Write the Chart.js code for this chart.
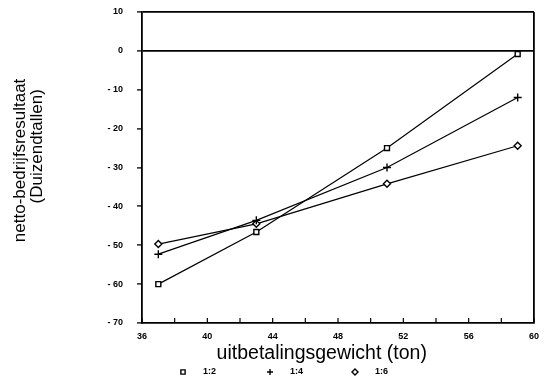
<!DOCTYPE html>
<html>
<head>
<meta charset="utf-8">
<script src="https://cdn.jsdelivr.net/npm/chart.js@4.4.1/dist/chart.umd.min.js"></script>
<style>
  html, body { margin: 0; padding: 0; background: #fff; }
  #wrap { width: 544px; height: 383px; }
</style>
</head>
<body>
<div id="wrap"><canvas id="chart" width="544" height="383"></canvas></div>
<script>
// values
const weights = [37, 43, 51, 59]
const ratio12 = [-60, -46.6, -25, -0.8]
const ratio14 = [-52.3, -43.6, -30, -12]
const ratio16 = [-49.7, -44.5, -34.2, -24.4]
const seriesNames = ['1:2', '1:4', '1:6']
const xTicks = [36, 40, 44, 48, 52, 56, 60]

function toPoints(vals){
  return weights.map((w, i) => ({x: w, y: vals[i]}))
}

const styles = ['rect', 'cross', 'rectRot']
const radii = [3.5, 4, 3.5]

const data = {
  datasets: [ratio12, ratio14, ratio16].map((vals, i) => ({
    label: seriesNames[i],
    data: toPoints(vals),
    showLine: true,
    borderColor: '#000',
    backgroundColor: '#fff',
    borderWidth: 1.2,
    pointStyle: styles[i],
    pointRadius: radii[i],
    pointBorderColor: '#000',
    pointBackgroundColor: '#fff',
    pointBorderWidth: 1.4
  }))
}

// inward x ticks + legend under the axis title
const extrasPlugin = {
  id: 'extras',
  afterDraw(chart){
    const ctx = chart.ctx
    const xs = chart.scales.x
    const bottom = chart.chartArea.bottom
    ctx.save()
    ctx.strokeStyle = '#000'
    ctx.lineWidth = 1.2
    xs.ticks.forEach(t => {
      const px = xs.getPixelForValue(t.value)
      ctx.beginPath()
      ctx.moveTo(px, bottom)
      ctx.lineTo(px, bottom - 5)
      ctx.stroke()
    })

    const lx = [183, 270, 355]
    const y = 372
    chart.data.datasets.forEach((ds, i) => {
      ctx.strokeStyle = '#000'
      ctx.fillStyle = '#fff'
      ctx.lineWidth = 1.4
      Chart.helpers.drawPoint(ctx, {pointStyle: ds.pointStyle, radius: 3, rotation: 0, borderWidth: 1.4}, lx[i], y)
      ctx.fillStyle = '#000'
      ctx.font = 'bold 9px "Liberation Sans", Arial, sans-serif'
      ctx.textBaseline = 'middle'
      ctx.fillText(ds.label, lx[i] + 20, y)
    })
    ctx.restore()
  }
}

const tickFont = {family: '"Liberation Sans", Arial, sans-serif', size: 9, weight: 'bold'}

const config = {
  type: 'scatter',
  data: data,
  options: {
    responsive: false,
    animation: false,
    layout: { padding: {top: 12, right: 10, left: 0, bottom: 0} },
    plugins: {
      legend: { display: false },
      tooltip: { enabled: false }
    },
    scales: {
      x: {
        min: 36, max: 60,
        ticks: {
          stepSize: 2,
          color: '#000',
          font: tickFont,
          maxRotation: 0,
          autoSkip: false,
          padding: 8,
          callback: v => xTicks.includes(v) ? String(v) : ''
        },
        grid: {
          color: c => c.tick && c.tick.value === 60 ? '#000' : 'rgba(0,0,0,0)',
          lineWidth: 1.8,
          drawTicks: false
        },
        border: { color: '#000', width: 1.8 },
        title: {
          display: true,
          text: 'uitbetalingsgewicht (ton)      ',
          color: '#000',
          font: {family: '"Liberation Sans", Arial, sans-serif', size: 19.5, lineHeight: 1.0},
          padding: {top: 0, bottom: 20}
        },
        afterFit: s => {
          s.height = 60
          s.paddingLeft = 0
          s.paddingRight = 0
        }
      },
      y: {
        min: -70, max: 10,
        ticks: {
          stepSize: 10,
          color: '#000',
          font: tickFont,
          padding: 14,
          callback: v => v < 0 ? '- ' + Math.abs(v) : String(v)
        },
        grid: {
          color: c => c.tick && (c.tick.value === 0 || c.tick.value === 10) ? '#000' : 'rgba(0,0,0,0)',
          lineWidth: 1.8,
          tickColor: '#000',
          tickLength: 5,
          tickWidth: 1.3
        },
        border: { color: '#000', width: 1.8 },
        title: {
          display: true,
          text: ['   netto-bedrijfsresultaat', '         (Duizendtallen)'],
          color: '#000',
          font: {family: '"Liberation Sans", Arial, sans-serif', size: 17, lineHeight: 1.0},
          padding: {top: 12, bottom: 0}
        },
        afterFit: s => {
          s.width = 142
          s.paddingTop = 0
          s.paddingBottom = 0
        }
      }
    }
  },
  plugins: [extrasPlugin]
}

const myChart = new Chart(document.getElementById('chart'), config)
</script>
</body>
</html>
